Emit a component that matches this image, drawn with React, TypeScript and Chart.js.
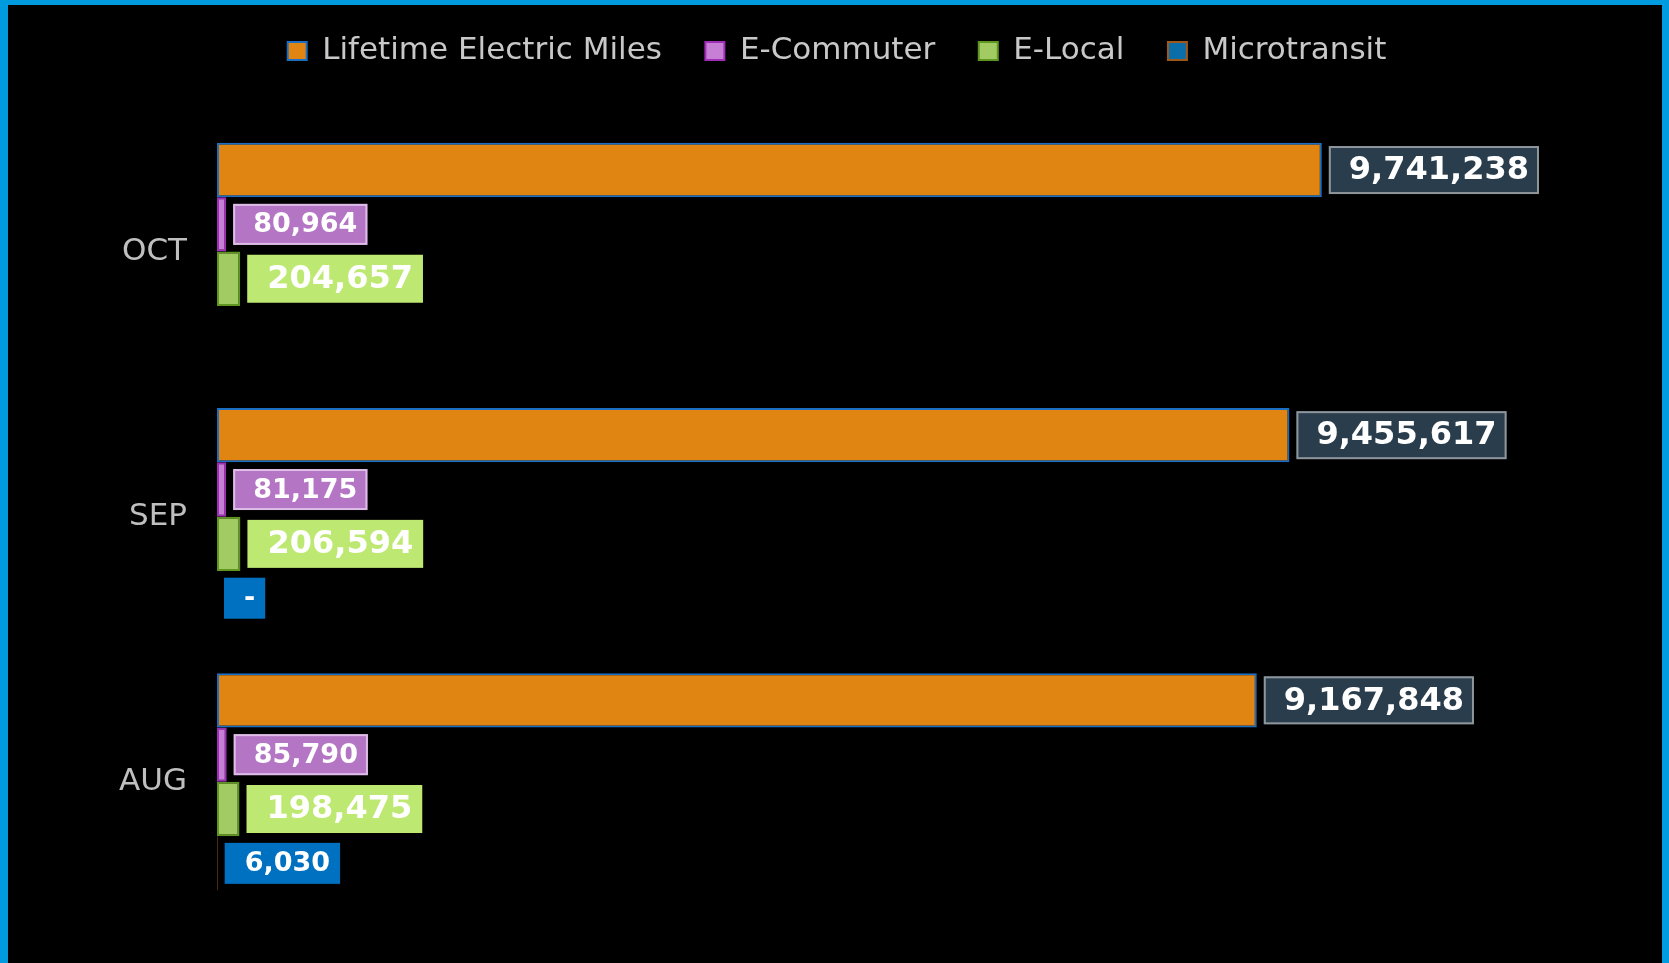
import React, { useEffect, useRef } from 'react';
import { Chart, registerables } from 'chart.js';

Chart.register(...registerables);

const months = ['OCT', 'SEP', 'AUG'];
const lifetimeMiles = [9741238, 9455617, 9167848];
const eCommuter = [80964, 81175, 85790];
const eLocal = [204657, 206594, 198475];
const microtransit: (number | null)[] = [null, 0, 6030];
const xMax = 12000000;

const FONT = "'DejaVu Sans', Verdana, sans-serif";

const labelStyles = [
  { fill: '#2A3D4D', stroke: '#8E969C', size: 32, h: 48 },
  { fill: '#B476C4', stroke: '#DDBDE6', size: 27, h: 41 },
  { fill: '#BDE872', stroke: null as string | null, size: 32, h: 48 },
  { fill: '#0070C0', stroke: null as string | null, size: 27, h: 41 },
];

const boxLabelPlugin = {
  id: 'boxLabels',
  afterDatasetsDraw(chart: any) {
    const ctx = chart.ctx as CanvasRenderingContext2D;
    chart.data.datasets.forEach((ds: any, di: number) => {
      const meta = chart.getDatasetMeta(di);
      const st = labelStyles[di];
      meta.data.forEach((bar: any, i: number) => {
        const v = ds.data[i];
        if (v === null || v === undefined) return;
        const text = v === 0 ? '-' : Number(v).toLocaleString('en-US');
        ctx.save();
        ctx.font = `bold ${st.size}px ${FONT}`;
        const tw = ctx.measureText(text).width;
        const { x, y } = bar.getProps(['x', 'y'], true);
        const left = x + 7;
        const w = tw + 30;
        const top = y - st.h / 2;
        ctx.fillStyle = st.fill;
        ctx.fillRect(left, top, w, st.h);
        if (st.stroke) {
          ctx.strokeStyle = st.stroke;
          ctx.lineWidth = 2;
          ctx.strokeRect(left + 1, top + 1, w - 2, st.h - 2);
        }
        ctx.fillStyle = '#FFFFFF';
        ctx.textBaseline = 'middle';
        ctx.textAlign = 'left';
        ctx.fillText(text, left + 20, y + 1);
        ctx.restore();
      });
    });
  },
};

export default function App() {
  const ref = useRef<HTMLCanvasElement | null>(null);

  useEffect(() => {
    if (!ref.current) return;
    const chart = new Chart(ref.current, {
      type: 'bar',
      data: {
        labels: months,
        datasets: [
          {
            label: 'Lifetime Electric Miles',
            data: lifetimeMiles,
            backgroundColor: '#E08412',
            borderColor: '#1B6EC2',
            borderWidth: 2,
            borderSkipped: false,
          },
          {
            label: 'E-Commuter',
            data: eCommuter,
            backgroundColor: '#C77FD6',
            borderColor: '#A02CB8',
            borderWidth: 2,
            borderSkipped: false,
          },
          {
            label: 'E-Local',
            data: eLocal,
            backgroundColor: '#A3CB63',
            borderColor: '#5F9622',
            borderWidth: 2,
            borderSkipped: false,
          },
          {
            label: 'Microtransit',
            data: microtransit,
            backgroundColor: '#0B6EA8',
            borderColor: '#A0581A',
            borderWidth: 2,
            borderSkipped: false,
          },
        ],
      },
      options: {
        animation: false,
        responsive: false,
        indexAxis: 'y',
        datasets: { bar: { categoryPercentage: 0.82, barPercentage: 1 } },
        layout: { padding: { top: -13, left: 88, right: 84, bottom: 46 } },
        plugins: {
          legend: {
            position: 'top',
            align: 'center',
            labels: {
              boxWidth: 19,
              boxHeight: 18,
              padding: 43.5,
              color: '#C8C8C8',
              font: { family: FONT, size: 31 },
            },
          },
          tooltip: { enabled: false },
        },
        scales: {
          x: {
            position: 'top',
            min: 0,
            max: xMax,
            grid: { display: false, drawTicks: false },
            border: { display: false },
            ticks: { display: false },
            afterFit: (s: any) => {
              s.height = 42.5;
            },
          },
          y: {
            grid: { display: false, drawTicks: false },
            border: { display: false },
            ticks: {
              color: '#BFBFBF',
              padding: 30,
              font: { family: FONT, size: 31 },
            },
            afterFit: (s: any) => {
              s.width = 121;
            },
          },
        },
      } as any,
      plugins: [boxLabelPlugin],
    });
    return () => chart.destroy();
  }, []);

  return (
    <div
      style={{
        position: 'fixed',
        left: 0,
        top: 0,
        width: 1669,
        height: 963,
        background: '#009ADE',
        overflow: 'hidden',
      }}
    >
      <div
        style={{
          position: 'absolute',
          left: 8,
          top: 5,
          width: 1654,
          height: 958,
          background: '#000000',
        }}
      >
        <canvas ref={ref} width={1654} height={958} style={{ display: 'block', width: 1654, height: 958 }} />
      </div>
    </div>
  );
}
